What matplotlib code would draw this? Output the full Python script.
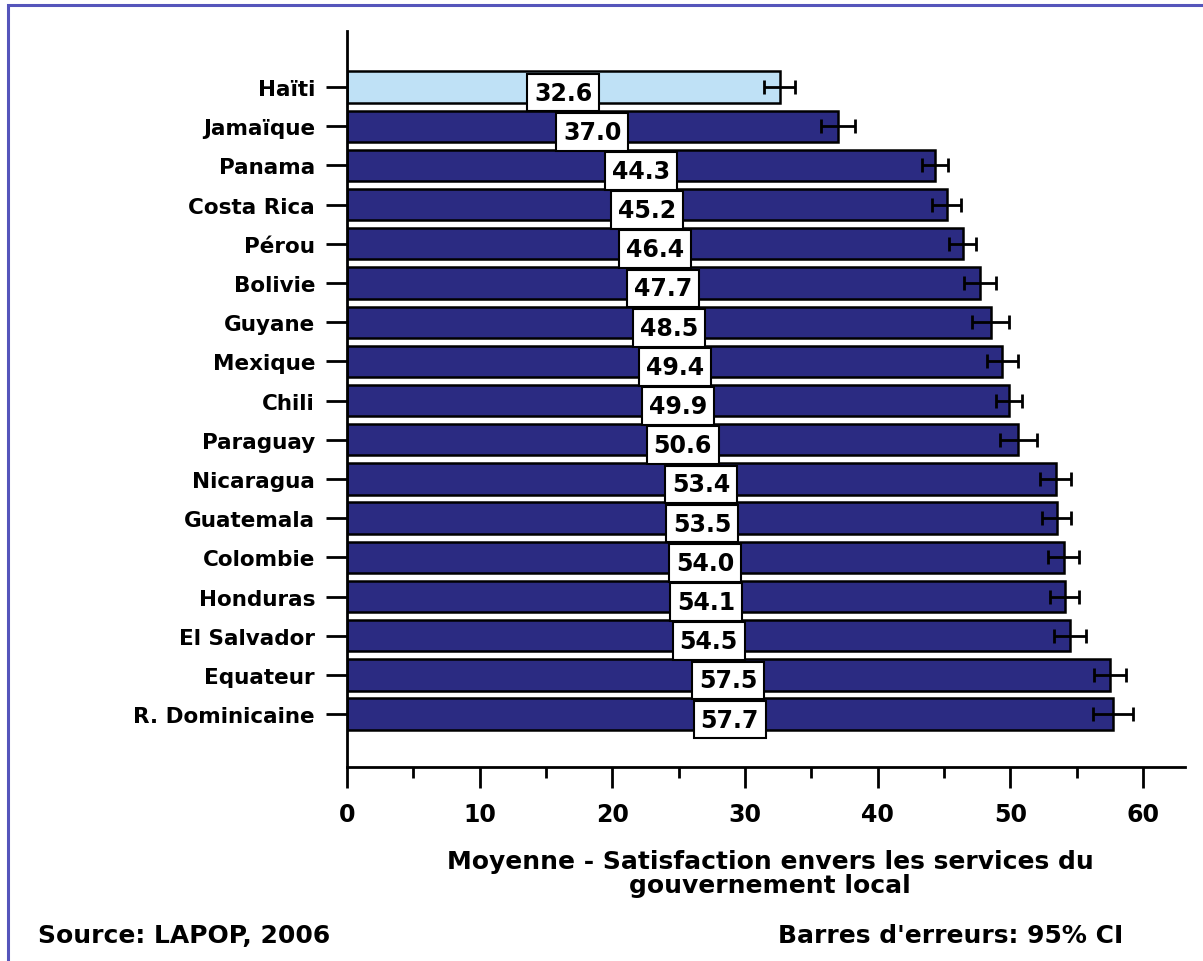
import numpy as np
import matplotlib.pyplot as plt
from matplotlib.patches import Rectangle
from matplotlib.ticker import MultipleLocator

pays = ['Haïti', 'Jamaïque', 'Panama', 'Costa Rica', 'Pérou', 'Bolivie', 'Guyane',
        'Mexique', 'Chili', 'Paraguay', 'Nicaragua', 'Guatemala', 'Colombie',
        'Honduras', 'El Salvador', 'Equateur', 'R. Dominicaine']
moyennes = [32.6, 37.0, 44.3, 45.2, 46.4, 47.7, 48.5, 49.4, 49.9, 50.6,
            53.4, 53.5, 54.0, 54.1, 54.5, 57.5, 57.7]
erreurs = [1.2, 1.3, 1.0, 1.1, 1.0, 1.2, 1.4, 1.2, 1.0, 1.4,
           1.2, 1.1, 1.2, 1.1, 1.2, 1.2, 1.5]

plt.rcParams['font.family'] = ['DejaVu Sans']
plt.rcParams['font.weight'] = 'bold'

fig = plt.figure(figsize=(12.03, 9.62), dpi=100)
ax = fig.add_axes([0.2884, 0.2017, 0.6966, 0.765])

# cadre bleu autour de la figure
fig.patches.append(Rectangle((8 / 1203, -0.05), 1.2, 1 - 6 / 962 + 0.05,
                             transform=fig.transFigure, fill=False,
                             edgecolor='#5555bb', linewidth=2.2))

y = np.arange(len(pays))
couleurs = ['#bfe1f6'] + ['#2b2b82'] * (len(pays) - 1)
ax.barh(y, moyennes, height=0.8, color=couleurs, edgecolor='black', linewidth=1.8)
ax.errorbar(moyennes, y, xerr=erreurs, fmt='none', ecolor='black',
            elinewidth=2, capsize=5, capthick=2)

for i, v in enumerate(moyennes):
    ax.text(v / 2, i + 0.14, f'{v:.1f}', ha='center', va='center',
            fontsize=17, fontweight='bold',
            bbox=dict(facecolor='white', edgecolor='black', linewidth=1.5, pad=5))

ax.set_yticks(y)
ax.set_yticklabels(pays, fontsize=15.5, fontweight='bold')
ax.set_ylim(17.35, -1.43)
ax.set_xlim(0, 63.15)
ax.xaxis.set_major_locator(MultipleLocator(10))
ax.xaxis.set_minor_locator(MultipleLocator(5))
ax.tick_params(axis='x', which='major', length=15, width=2, labelsize=17, pad=10)
ax.tick_params(axis='x', which='minor', length=8, width=2)
ax.tick_params(axis='y', length=15, width=2, pad=8)
for lab in ax.get_xticklabels():
    lab.set_fontweight('bold')

for s in ['top', 'right']:
    ax.spines[s].set_visible(False)
ax.spines['left'].set_linewidth(2)
ax.spines['bottom'].set_linewidth(2)

fig.text(770 / 1203, 1 - 874 / 962,
         'Moyenne - Satisfaction envers les services du\ngouvernement local',
         ha='center', va='center', fontsize=18, fontweight='bold', linespacing=1.0)
fig.text(38 / 1203, 1 - 936 / 962, 'Source: LAPOP, 2006', ha='left', va='center',
         fontsize=18, fontweight='bold')
fig.text(1123 / 1203, 1 - 936 / 962, "Barres d'erreurs: 95% CI", ha='right',
         va='center', fontsize=18, fontweight='bold')

fig.savefig('out.png', dpi=100)
